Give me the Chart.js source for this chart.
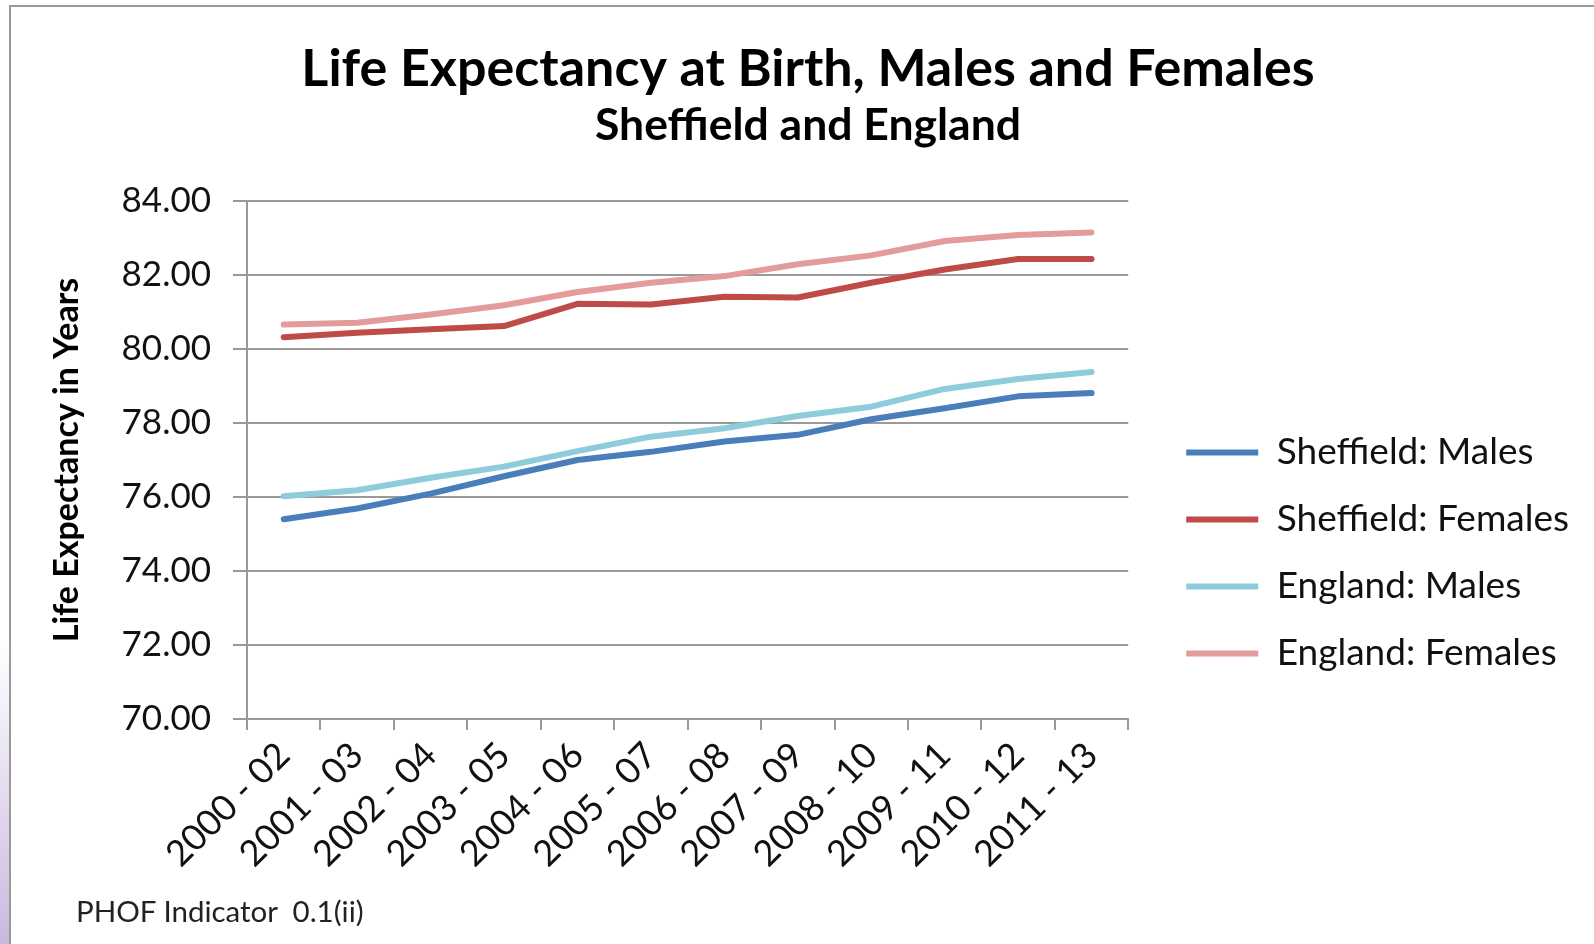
<!DOCTYPE html>
<html>
<head>
<meta charset="utf-8">
<script src="https://cdn.jsdelivr.net/npm/chart.js@4.4.1/dist/chart.umd.min.js"></script>
<style>
  html, body { margin: 0; padding: 0; background: #fff; overflow: hidden; width: 1594px; height: 944px; }
  #frame { position: absolute; left: 9px; top: 5px; width: 1700px; height: 1000px; border: 2px solid #999; }
  #strip { position: absolute; left: 0; top: 640px; width: 9px; height: 304px; background: linear-gradient(to bottom, #fff, #c9b9df); }
  #wrap { position: absolute; left: 10px; top: 0; width: 1596px; height: 944px; }
  #footer { position: absolute; left: 76px; top: 893px; font: 29.5px Lato, sans-serif; color: #222; white-space: pre; }
</style>
</head>
<body>
<div id="strip"></div>
<div id="frame"></div>
<div id="wrap"><canvas id="graphic" width="1596" height="944"></canvas></div>
<div id="footer">PHOF Indicator  0.1(ii)</div>
<script>
  // periods (3 year pooled)
  const periods = ["2000 - 02", "2001 - 03", "2002 - 04", "2003 - 05", "2004 - 06", "2005 - 07",
                   "2006 - 08", "2007 - 09", "2008 - 10", "2009 - 11", "2010 - 12", "2011 - 13"];

  const sheffieldMales   = [75.40, 75.69, 76.09, 76.56, 77.00, 77.22, 77.50, 77.68, 78.10, 78.40, 78.72, 78.81];
  const sheffieldFemales = [80.32, 80.44, 80.53, 80.62, 81.22, 81.20, 81.41, 81.39, 81.79, 82.15, 82.43, 82.43];
  const englandMales     = [76.02, 76.18, 76.52, 76.82, 77.24, 77.63, 77.86, 78.19, 78.44, 78.92, 79.19, 79.38];
  const englandFemales   = [80.66, 80.71, 80.93, 81.18, 81.54, 81.79, 81.97, 82.29, 82.53, 82.92, 83.08, 83.15];

  const yMin = 70, yMax = 84, yStep = 2;

  function serie(label, data, color) {
    return {
      label: label,
      data: data,
      borderColor: color,
      backgroundColor: color,
      borderWidth: 6,
      borderCapStyle: "round",
      borderJoinStyle: "round",
      pointRadius: 0,
      tension: 0,
    };
  }

  // titles centred on the whole frame, legend pushed off the plot a bit
  const layoutTweak = {
    id: "layoutTweak",
    afterLayout(chart, args, opts) {
      chart.boxes.forEach(function (b) {
        if (b.position === "top" && b.fullSize) {
          b.left = 0;
          b.right = chart.width;
          b.width = chart.width;
        }
      });
      const lg = chart.legend;
      lg.left += opts.dx;
      lg.right = chart.width;
      lg.width = lg.right - lg.left;
      lg.top += opts.dy; lg.bottom += opts.dy;
    },
  };

  const grey = "#9a9a9a";
  var ctx = document.getElementById("graphic").getContext("2d");
  var chart = new Chart(ctx, {
    type: "line",
    data: {
      labels: periods,
      datasets: [
        serie("Sheffield: Males", sheffieldMales, "#4A7EBB"),
        serie("Sheffield: Females", sheffieldFemales, "#BE4B48"),
        serie("England: Males", englandMales, "#8ECBDB"),
        serie("England: Females", englandFemales, "#E39C9B"),
      ],
    },
    plugins: [layoutTweak],
    options: {
      responsive: false,
      animation: false,
      layout: { padding: { left: 0, right: 105, top: 0, bottom: 0 } },
      plugins: {
        title: {
          display: true,
          text: "Life Expectancy at Birth, Males and Females",
          color: "#000",
          font: { family: "Lato", size: 52, weight: "bold", lineHeight: 1.15 },
          padding: { top: 39, bottom: 0 },
        },
        subtitle: {
          display: true,
          text: "Sheffield and England",
          color: "#000",
          font: { family: "Lato", size: 44.5, weight: "bold", lineHeight: 1.15 },
          padding: { top: 1, bottom: 50 },
        },
        legend: {
          position: "right",
          align: "end",
          fullSize: false,
          labels: {
            usePointStyle: true,
            pointStyle: "line",
            pointStyleWidth: 72,
            boxHeight: 37,
            padding: 30,
            color: "#111",
            font: { family: "Lato", size: 37 },
          },
        },
        layoutTweak: { dx: 28, dy: -17 },
        tooltip: { enabled: false },
      },
      scales: {
        x: {
          offset: true,
          grid: { offset: true, drawOnChartArea: false, drawTicks: true, tickLength: 11, color: grey, lineWidth: 2 },
          border: { color: grey, width: 2 },
          ticks: {
            autoSkip: false, minRotation: 45, maxRotation: 45, padding: 4,
            color: "#111", font: { family: "Lato", size: 36 },
          },
          afterFit: function (scale) { scale.height = 225; },
        },
        y: {
          min: yMin, max: yMax,
          grid: { color: grey, lineWidth: 2, tickLength: 14 },
          border: { color: grey, width: 2 },
          ticks: {
            stepSize: yStep, padding: 22,
            color: "#111", font: { family: "Lato", size: 35 },
            callback: function (v) { return v.toFixed(2); },
          },
          title: {
            display: true,
            text: "Life Expectancy in Years",
            color: "#000",
            font: { family: "Lato", size: 34, weight: "bold", lineHeight: 1.2 },
            padding: { top: 37, bottom: 0 },
          },
          afterFit: function (scale) { scale.width = 237; },
        },
      },
    },
  });
</script>
</body>
</html>
